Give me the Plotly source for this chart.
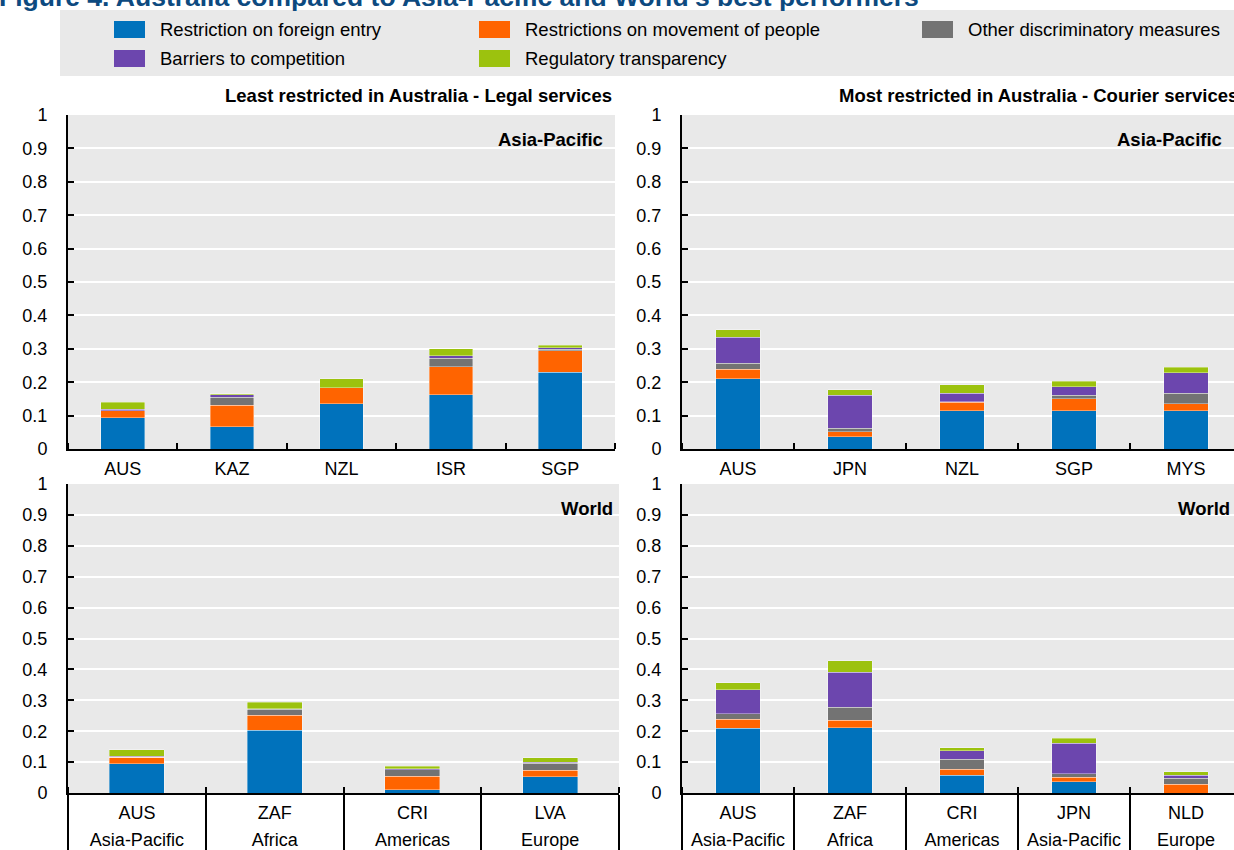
import plotly.graph_objects as go

# ---------------- data ----------------
series_names = [
    "Restriction on foreign entry",
    "Restrictions on movement of people",
    "Other discriminatory measures",
    "Barriers to competition",
    "Regulatory transparency",
]
series_colors = ["#0072BC", "#FF6400", "#737373", "#6C46AE", "#9CC20E"]

# Legal services – Asia-Pacific
legal_ap_countries = ["AUS", "KAZ", "NZL", "ISR", "SGP"]
legal_ap_foreign = [0.094, 0.066, 0.135, 0.162, 0.230]
legal_ap_movement = [0.021, 0.065, 0.049, 0.085, 0.064]
legal_ap_other = [0.000, 0.024, 0.000, 0.025, 0.005]
legal_ap_barriers = [0.004, 0.008, 0.000, 0.007, 0.004]
legal_ap_transparency = [0.021, 0.002, 0.027, 0.021, 0.008]

# Courier services – Asia-Pacific
courier_ap_countries = ["AUS", "JPN", "NZL", "SGP", "MYS"]
courier_ap_foreign = [0.210, 0.036, 0.115, 0.115, 0.115]
courier_ap_movement = [0.029, 0.015, 0.025, 0.035, 0.020]
courier_ap_other = [0.018, 0.011, 0.002, 0.011, 0.032]
courier_ap_barriers = [0.077, 0.099, 0.025, 0.026, 0.062]
courier_ap_transparency = [0.023, 0.016, 0.025, 0.016, 0.016]

# Legal services – World
legal_w_countries = ["AUS", "ZAF", "CRI", "LVA"]
legal_w_regions = ["Asia-Pacific", "Africa", "Americas", "Europe"]
legal_w_foreign = [0.094, 0.203, 0.011, 0.053]
legal_w_movement = [0.021, 0.049, 0.043, 0.021]
legal_w_other = [0.000, 0.019, 0.021, 0.022]
legal_w_barriers = [0.004, 0.002, 0.004, 0.004]
legal_w_transparency = [0.021, 0.020, 0.008, 0.014]

# Courier services – World
courier_w_countries = ["AUS", "ZAF", "CRI", "JPN", "NLD"]
courier_w_regions = ["Asia-Pacific", "Africa", "Americas", "Asia-Pacific", "Europe"]
courier_w_foreign = [0.210, 0.211, 0.057, 0.036, 0.000]
courier_w_movement = [0.029, 0.024, 0.020, 0.015, 0.028]
courier_w_other = [0.018, 0.042, 0.033, 0.011, 0.020]
courier_w_barriers = [0.077, 0.114, 0.027, 0.099, 0.009]
courier_w_transparency = [0.023, 0.037, 0.009, 0.016, 0.011]

y_tick_values = [0, 0.1, 0.2, 0.3, 0.4, 0.5, 0.6, 0.7, 0.8, 0.9, 1]

# ---------------- layout helpers ----------------
W, H = 1234, 850
FONT = "Liberation Sans, Arial, sans-serif"


def px_x(p):
    return p / W


def px_y(p):
    return (H - p) / H


panels = [
    dict(xa="x", ya="y", countries=legal_ap_countries, regions=None,
         data=[legal_ap_foreign, legal_ap_movement, legal_ap_other, legal_ap_barriers, legal_ap_transparency],
         xdom=[px_x(68), px_x(615)], ydom=[px_y(449), px_y(115)], span=5.0),
    dict(xa="x2", ya="y2", countries=courier_ap_countries, regions=None,
         data=[courier_ap_foreign, courier_ap_movement, courier_ap_other, courier_ap_barriers, courier_ap_transparency],
         xdom=[px_x(682), 1.0], ydom=[px_y(449), px_y(115)], span=552 / 112),
    dict(xa="x3", ya="y3", countries=legal_w_countries, regions=legal_w_regions,
         data=[legal_w_foreign, legal_w_movement, legal_w_other, legal_w_barriers, legal_w_transparency],
         xdom=[px_x(68), px_x(619)], ydom=[px_y(793), px_y(484)], span=4.0),
    dict(xa="x4", ya="y4", countries=courier_w_countries, regions=courier_w_regions,
         data=[courier_w_foreign, courier_w_movement, courier_w_other, courier_w_barriers, courier_w_transparency],
         xdom=[px_x(682), 1.0], ydom=[px_y(793), px_y(484)], span=552 / 112),
]

fig = go.Figure()

for p in panels:
    xs = list(range(len(p["countries"])))
    for name, color, vals in zip(series_names, series_colors, p["data"]):
        fig.add_trace(go.Bar(
            x=xs, y=vals, name=name, width=0.4,
            marker=dict(color=color, line=dict(color="rgba(255,255,255,0.45)", width=0.8)),
            xaxis=p["xa"], yaxis=p["ya"], showlegend=False,
            hovertemplate=name + ": %{y}<extra></extra>",
        ))

layout = dict(
    width=W, height=H, autosize=False,
    margin=dict(l=0, r=0, t=0, b=0, pad=0),
    paper_bgcolor="white", plot_bgcolor="#E9E9E9",
    barmode="stack",
    font=dict(family=FONT, size=18, color="black"),
    showlegend=False,
)

overlay_ids = {"x3": "x5", "x4": "x6"}

for p in panels:
    n = len(p["countries"])
    xkey = "xaxis" + p["xa"][1:]
    ykey = "yaxis" + p["ya"][1:]
    boundaries = [i - 0.5 for i in range(n + 1)]
    bottom = p["regions"] is not None
    layout[xkey] = dict(
        domain=p["xdom"], anchor=p["ya"], range=[-0.5, -0.5 + p["span"]],
        tickmode="array", tickvals=list(range(n)), ticktext=p["countries"],
        ticks="", showgrid=False, zeroline=False, automargin=False,
        showline=True, linecolor="black", linewidth=2,
        tickfont=dict(size=18, family=FONT, color="black"),
        ticklabelstandoff=2,
        minor=dict(tickmode="array", tickvals=boundaries,
                   ticks="outside" if bottom else "inside",
                   ticklen=60 if bottom else 6, tickwidth=2, tickcolor="black",
                   showgrid=False),
        fixedrange=True,
    )
    layout[ykey] = dict(
        domain=p["ydom"], anchor=p["xa"], range=[0, 1],
        tickmode="array", tickvals=y_tick_values,
        ticks="inside", ticklen=6, tickwidth=2, tickcolor="black",
        showline=True, linecolor="black", linewidth=2, automargin=False,
        showgrid=True, gridcolor="white", gridwidth=1.5, zeroline=False,
        tickfont=dict(size=18, family=FONT, color="black"),
        ticklabelstandoff=15, fixedrange=True,
    )
    if bottom:
        ov = overlay_ids[p["xa"]]
        layout["xaxis" + ov[1:]] = dict(
            domain=p["xdom"], anchor=p["ya"], overlaying=p["xa"],
            range=[-0.5, -0.5 + p["span"]], automargin=False,
            tickmode="array", tickvals=list(range(n)), ticktext=p["regions"],
            ticks="", showgrid=False, zeroline=False, showline=False,
            tickfont=dict(size=18, family=FONT, color="black"),
            ticklabelstandoff=34,
            minor=dict(tickmode="array", tickvals=boundaries, ticks="inside",
                       ticklen=6, tickwidth=2, tickcolor="black", showgrid=False),
            fixedrange=True,
        )
        fig.add_trace(go.Scatter(x=[None], y=[None], xaxis=ov, yaxis=p["ya"],
                                 showlegend=False, hoverinfo="skip"))

fig.update_layout(**layout)

# ---------------- legend (manual) ----------------
shapes = []
annotations = []
shapes.append(dict(type="rect", xref="paper", yref="paper",
                   x0=px_x(60), x1=1.0, y0=px_y(76), y1=px_y(10),
                   fillcolor="#E9E9E9", line=dict(width=0), layer="below"))
legend_slots = [(114, 29.5), (479, 29.5), (922, 29.5), (114, 58.5), (479, 58.5)]
for (sx, sy), name, color in zip(legend_slots, series_names, series_colors):
    shapes.append(dict(type="rect", xref="paper", yref="paper",
                       x0=px_x(sx), x1=px_x(sx + 31), y0=px_y(sy + 8.5), y1=px_y(sy - 8.5),
                       fillcolor=color, line=dict(width=0)))
    annotations.append(dict(text=name, xref="paper", yref="paper",
                            x=px_x(sx + 44), y=px_y(sy), xanchor="left", yanchor="middle",
                            showarrow=False, font=dict(size=18.5, family=FONT, color="black")))

# title (cut off at top in reference)
annotations.append(dict(
    text="<b>Figure 4. Australia compared to Asia-Pacific and World's best performers</b>",
    xref="paper", yref="paper", x=px_x(-3), y=px_y(14.5), xanchor="left", yanchor="bottom",
    showarrow=False, font=dict(size=26.5, family=FONT, color="#0D4A80")))

# panel titles
annotations.append(dict(text="<b>Least restricted in Australia - Legal services</b>",
                        xref="paper", yref="paper", x=px_x(614), y=px_y(96),
                        xanchor="right", yanchor="middle", showarrow=False,
                        font=dict(size=18.5, family=FONT, color="black")))
annotations.append(dict(text="<b>Most restricted in Australia - Courier services</b>",
                        xref="paper", yref="paper", x=px_x(1240), y=px_y(96),
                        xanchor="right", yanchor="middle", showarrow=False,
                        font=dict(size=18.5, family=FONT, color="black")))
# in-panel region labels
for txt, xr, yc in [("Asia-Pacific", 605, 139), ("Asia-Pacific", 1224, 139),
                    ("World", 615, 508), ("World", 1232, 508)]:
    annotations.append(dict(text="<b>" + txt + "</b>", xref="paper", yref="paper",
                            x=px_x(xr), y=px_y(yc), xanchor="right", yanchor="middle",
                            showarrow=False, font=dict(size=18.5, family=FONT, color="black")))

fig.update_layout(shapes=shapes, annotations=annotations)

reset_page = (
    "document.documentElement.style.margin='0';"
    "document.documentElement.style.padding='0';"
    "document.documentElement.style.overflow='hidden';"
    "document.body.style.margin='0';"
    "document.body.style.padding='0';"
    "document.body.style.overflow='hidden';"
)

fig.write_html("out.html", post_script=reset_page, config={"displayModeBar": False})
